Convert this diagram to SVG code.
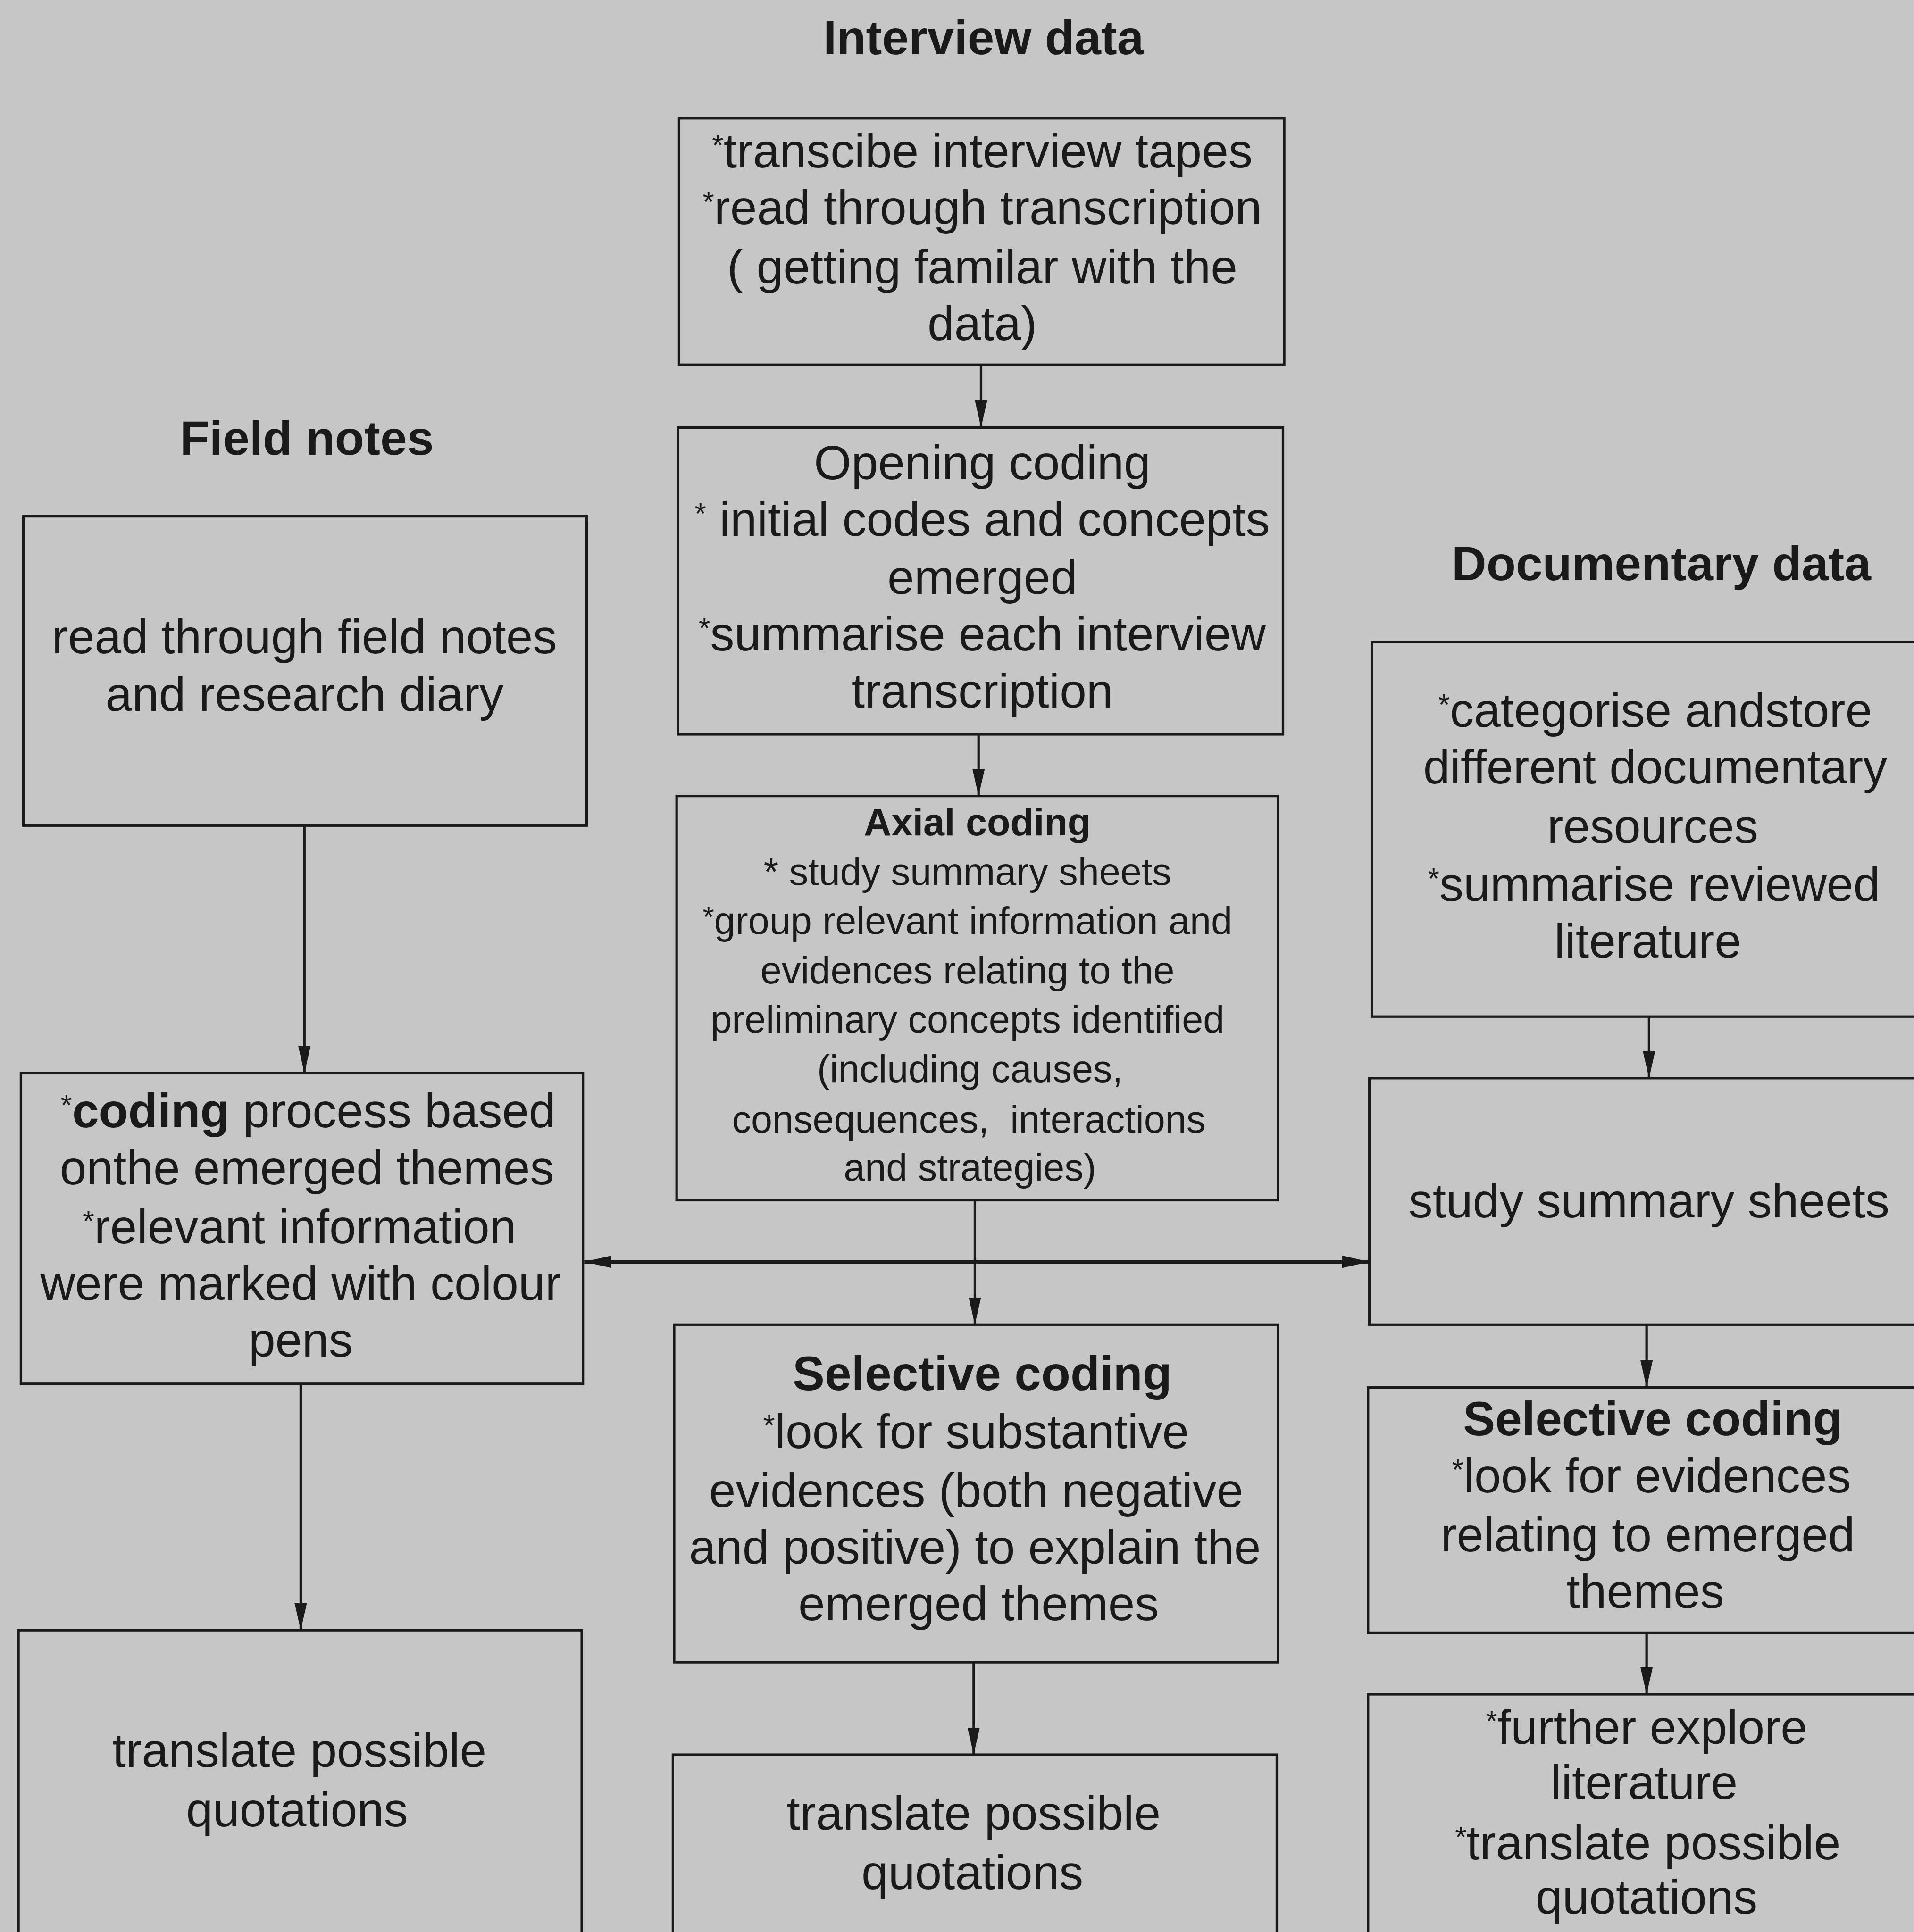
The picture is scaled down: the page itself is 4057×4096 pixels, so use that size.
<svg xmlns="http://www.w3.org/2000/svg" width="4057" height="4096" viewBox="0 0 4057 4096">
<defs>
<style>
.bg{fill:#c6c6c6}
.box{fill:none;stroke:#1a1a1a;stroke-width:2}
text{font-family:"Liberation Sans",Arial,sans-serif;fill:#1a1a1a;text-anchor:middle}
.t{font-size:39px}
.h{font-size:39px;font-weight:bold}
.s{font-size:31px}
.sh{font-size:31px;font-weight:bold}
.ast{font-size:24px}
.c{stroke:#1a1a1a;stroke-width:2;fill:none}
.c3{stroke:#1a1a1a;stroke-width:3;fill:none}
</style>
<marker id="ah" viewBox="0 0 22 10" refX="22" refY="5" markerWidth="22" markerHeight="10" markerUnits="userSpaceOnUse" orient="auto-start-reverse"><path d="M0,0 L22,5 L0,10 z" fill="#1a1a1a"/></marker>
</defs>
<rect class="bg" width="4057" height="4096"/>
<g transform="scale(2.6124)">
<g id="titles">
<text class="h" x="798" y="44">Interview data</text>
<text class="h" x="249" y="369">Field notes</text>
<text class="h" x="1348" y="471">Documentary data</text>
</g>
<g id="n-interview">
<rect class="box" x="551" y="96" width="491" height="200"/>
<text class="t" x="797" y="136"><tspan class="ast" dy="-10">*</tspan><tspan dy="10">transcibe interview tapes</tspan></text>
<text class="t" x="797" y="182"><tspan class="ast" dy="-10">*</tspan><tspan dy="10">read through transcription</tspan></text>
<text class="t" x="797" y="230">( getting familar with the</text>
<text class="t" x="797" y="276">data)</text>
</g>
<g id="n-opening">
<rect class="box" x="550" y="347" width="491" height="249"/>
<text class="t" x="797" y="389">Opening coding</text>
<text class="t" x="797" y="435"><tspan class="ast" dy="-10">*</tspan><tspan dy="10"> initial codes and concepts</tspan></text>
<text class="t" x="797" y="482">emerged</text>
<text class="t" x="797" y="528"><tspan class="ast" dy="-10">*</tspan><tspan dy="10">summarise each interview</tspan></text>
<text class="t" x="797" y="574">transcription</text>
</g>
<g id="n-axial">
<rect class="box" x="549" y="646" width="488" height="328"/>
<text class="sh" x="793" y="678">Axial coding</text>
<text class="s" x="785" y="718">* study summary sheets</text>
<text class="s" x="785" y="758"><tspan class="ast" dy="-6">*</tspan><tspan dy="6">group relevant information and</tspan></text>
<text class="s" x="785" y="798">evidences relating to the</text>
<text class="s" x="785" y="838">preliminary concepts identified</text>
<text class="s" x="787" y="878">(including causes,</text>
<text class="s" x="786" y="919" xml:space="preserve">consequences,  interactions</text>
<text class="s" x="787" y="958">and strategies)</text>
</g>
<g id="n-field">
<rect class="box" x="19" y="419" width="457" height="251"/>
<text class="t" x="247" y="530">read through field notes</text>
<text class="t" x="247" y="577">and research diary</text>
</g>
<g id="n-fieldcoding">
<rect class="box" x="17" y="871" width="456" height="252"/>
<text class="t" x="250" y="915"><tspan class="ast" dy="-10">*</tspan><tspan dy="10" font-weight="bold">coding</tspan> process based</text>
<text class="t" x="249" y="961">onthe emerged themes</text>
<text class="t" x="243" y="1009"><tspan class="ast" dy="-10">*</tspan><tspan dy="10">relevant information</tspan></text>
<text class="t" x="244" y="1055">were marked with colour</text>
<text class="t" x="244" y="1101">pens</text>
</g>
<g id="n-fieldtranslate">
<rect class="box" x="15" y="1323" width="457" height="270"/>
<text class="t" x="243" y="1434">translate possible</text>
<text class="t" x="241" y="1482">quotations</text>
</g>
<g id="n-selective">
<rect class="box" x="547" y="1075" width="490" height="274"/>
<text class="h" x="797" y="1128">Selective coding</text>
<text class="t" x="792" y="1175"><tspan class="ast" dy="-10">*</tspan><tspan dy="10">look for substantive</tspan></text>
<text class="t" x="792" y="1223">evidences (both negative</text>
<text class="t" x="791" y="1269">and positive) to explain the</text>
<text class="t" x="794" y="1315">emerged themes</text>
</g>
<g id="n-translate">
<rect class="box" x="546" y="1424" width="490" height="170"/>
<text class="t" x="790" y="1485">translate possible</text>
<text class="t" x="789" y="1533">quotations</text>
</g>
<g id="n-documentary">
<rect class="box" x="1113" y="521" width="460" height="304"/>
<text class="t" x="1343" y="590"><tspan class="ast" dy="-10">*</tspan><tspan dy="10">categorise andstore</tspan></text>
<text class="t" x="1343" y="636">different documentary</text>
<text class="t" x="1341" y="684">resources</text>
<text class="t" x="1342" y="731"><tspan class="ast" dy="-10">*</tspan><tspan dy="10">summarise reviewed</tspan></text>
<text class="t" x="1337" y="777">literature</text>
</g>
<g id="n-summary">
<rect class="box" x="1111" y="875" width="462" height="200"/>
<text class="t" x="1338" y="988">study summary sheets</text>
</g>
<g id="n-selective2">
<rect class="box" x="1110" y="1126" width="463" height="199"/>
<text class="h" x="1341" y="1165">Selective coding</text>
<text class="t" x="1340" y="1211"><tspan class="ast" dy="-10">*</tspan><tspan dy="10">look for evidences</tspan></text>
<text class="t" x="1337" y="1259">relating to emerged</text>
<text class="t" x="1335" y="1305">themes</text>
</g>
<g id="n-explore">
<rect class="box" x="1110" y="1375" width="463" height="220"/>
<text class="t" x="1336" y="1415"><tspan class="ast" dy="-10">*</tspan><tspan dy="10">further explore</tspan></text>
<text class="t" x="1334" y="1460">literature</text>
<text class="t" x="1337" y="1509"><tspan class="ast" dy="-10">*</tspan><tspan dy="10">translate possible</tspan></text>
<text class="t" x="1336" y="1553">quotations</text>
</g>
<g id="connectors">
<path class="c" d="M796,296 L796,347" marker-end="url(#ah)"/>
<path class="c" d="M794,596 L794,646" marker-end="url(#ah)"/>
<path class="c" d="M247,670 L247,871" marker-end="url(#ah)"/>
<path class="c" d="M791,974 L791,1075" marker-end="url(#ah)"/>
<path class="c3" d="M474,1024 L1111,1024" marker-start="url(#ah)" marker-end="url(#ah)"/>
<path class="c" d="M244,1123 L244,1323" marker-end="url(#ah)"/>
<path class="c" d="M790,1349 L790,1424" marker-end="url(#ah)"/>
<path class="c" d="M1338,825 L1338,875" marker-end="url(#ah)"/>
<path class="c" d="M1336,1075 L1336,1126" marker-end="url(#ah)"/>
<path class="c" d="M1336,1325 L1336,1375" marker-end="url(#ah)"/>
</g>
</g>
</svg>
